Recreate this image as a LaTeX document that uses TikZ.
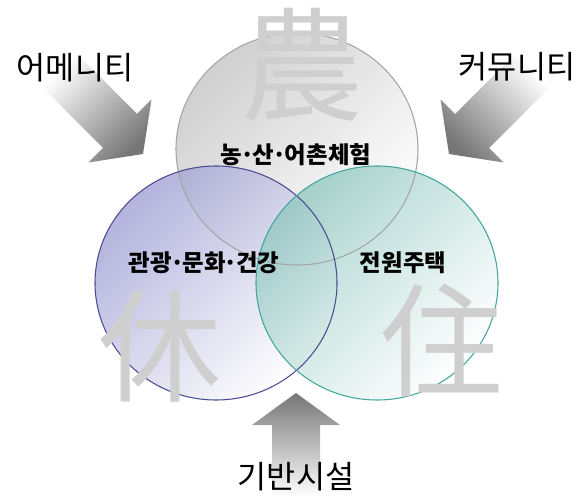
\documentclass[tikz,border=0pt]{standalone}
\usepackage{fontspec}
\usepackage{tikz}
\usetikzlibrary{positioning}
\newfontfamily\kor{Noto Sans CJK KR}
\newcommand{\mdot}{\kern-0.08em·\kern-0.08em}
\definecolor{ringgray}{RGB}{165,165,165}
\definecolor{ringblue}{RGB}{75,75,145}
\definecolor{ringteal}{RGB}{65,165,155}
\definecolor{fillgray}{RGB}{208,208,208}
\definecolor{fillblue}{RGB}{160,160,212}
\definecolor{fillteal}{RGB}{140,198,190}
\definecolor{arrowgray}{RGB}{118,118,118}

\begin{document}
\begin{tikzpicture}[x=0.03cm, y=0.03cm,
    bigword/.style={font=\kor\fontsize{27}{30}\selectfont, inner sep=0pt},
    innerword/.style={font=\kor\bfseries\fontsize{20}{22}\selectfont, inner sep=0pt},
    hanja/.style={font=\kor\fontsize{105}{105}\selectfont, text=black!19, inner sep=0pt}]
    \useasboundingbox (0,0) rectangle (583,497);
    % three rings
    \shade[top color=fillgray, middle color=fillgray!35!white, bottom color=white,
           shading angle=45]
          (297,348) ellipse (121 and 116);
    \shade[top color=fillblue, middle color=fillblue!18!white, bottom color=white,
           shading angle=45, fill opacity=0.8]
          (216,214) ellipse (121 and 117);
    \shade[top color=fillteal, middle color=fillteal!20!white, bottom color=white,
           shading angle=45, fill opacity=0.75]
          (377,214) ellipse (121 and 117);
    \draw[ringgray, line width=0.9pt] (297,348) ellipse (121 and 116);
    \draw[ringblue, line width=0.9pt] (216,214) ellipse (121 and 117);
    \draw[ringteal, line width=0.9pt] (377,214) ellipse (121 and 117);
    % big characters
    \node[hanja] (nong) at (302,432) {農};
    \node[hanja] (hyu) at (160,151) {休};
    \node[hanja] (ju) at (442,157) {住};
    % block arrows
    \shade[top color=white, bottom color=arrowgray, shading angle=45]
          (43,409) -- (103,349) -- (88.5,334.5) -- (143,343)
          -- (151.5,397.5) -- (137,383) -- (77,443) -- cycle;
    \shade[top color=white, bottom color=arrowgray, shading angle=-45]
          (549,409) -- (489,349) -- (503.5,334.5) -- (449,343)
          -- (440.5,397.5) -- (455,383) -- (515,443) -- cycle;
    \shade[top color=arrowgray, bottom color=white]
          (272,0) -- (272,72) -- (252,72) -- (296,104)
          -- (340,72) -- (320,72) -- (320,0) -- cycle;
    % labels
    \node[innerword] (farm) at (296,342) {농\mdot 산\mdot 어촌체험};
    \node[innerword] (tour) at (204,234) {관광\mdot 문화\mdot 건강};
    \node[innerword] (house) at (403,234) {전원주택};
    \node[bigword] (amenity) at (75,429) {어메니티};
    \node[bigword] (community) at (517,430) {커뮤니티};
    \node[bigword] (infra) at (296,20) {기반시설};
\end{tikzpicture}
\end{document}
